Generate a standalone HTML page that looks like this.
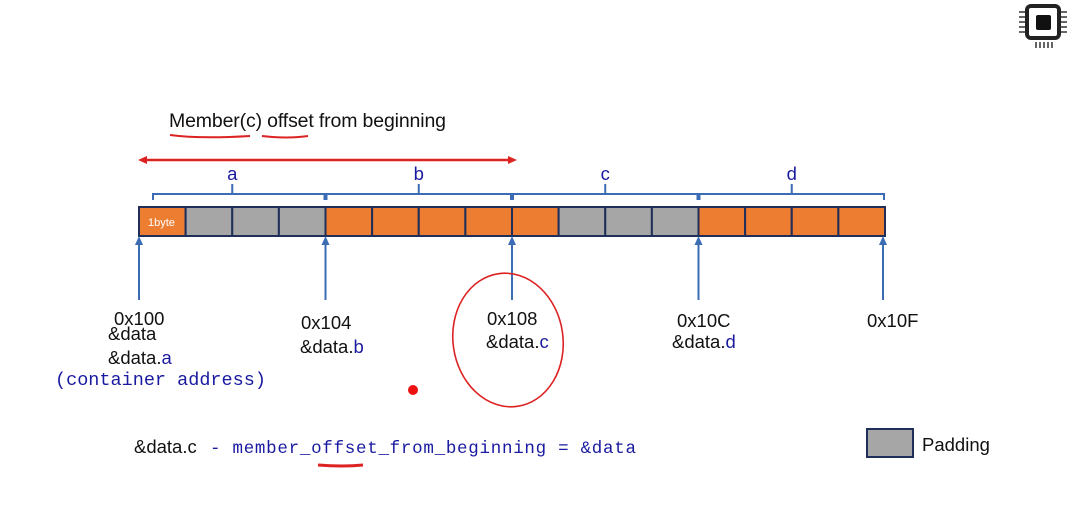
<!DOCTYPE html>
<html><head><meta charset="utf-8"><style>
body{margin:0;background:#fff;width:1075px;height:510px;overflow:hidden}
svg{display:block}
.t{font-family:"Liberation Sans",sans-serif;font-size:18.5px;fill:#111}
.m{font-family:"Liberation Mono",monospace;font-size:17.5px;fill:#1a1aa0}
.b{fill:#1a1aa0}
</style></head><body>
<svg id="s" width="1075" height="510">
<g>
<rect x="1027" y="6" width="32" height="32" rx="4" fill="none" stroke="#222" stroke-width="4"/>
<rect x="1036" y="15" width="15" height="15" rx="2" fill="#111"/>
<path d="M1019 12h6M1019 17h6M1019 22h6M1019 27h6M1019 32h6M1061 12h6M1061 17h6M1061 22h6M1061 27h6M1061 32h6M1036 42v6M1040 42v6M1044 42v6M1048 42v6M1052 42v6" stroke="#333" stroke-width="1.5"/>
</g>
<text class="t" x="169" y="127" style="font-size:19.5px" textLength="277">Member(c) offset from beginning</text>
<path d="M170 135q30 4 80 1M262 136q25 3 46 0" stroke="#d22" stroke-width="2" fill="none"/>
<g>
<line x1="144" y1="160" x2="510" y2="160" stroke="#d22" stroke-width="2.5"/>
<path d="M138 160l9-4v8zM517 160l-9-4v8z" fill="#d22"/>
</g>
<g id="cells"></g>
<g id="brk"></g>
<g id="addr"></g>
<text class="m" x="55" y="385" style="font-size:18.5px">(container address)</text>
<ellipse cx="508" cy="340" rx="55" ry="67" fill="none" stroke="#d22" stroke-width="1.6" transform="rotate(-8 508 340)"/>
<circle cx="413" cy="390" r="5" fill="#e11"/>
<text class="t" x="134" y="453">&amp;data.c</text>
<text class="m" x="210" y="453" textLength="426">- member_offset_from_beginning = &amp;data</text>
<path d="M318 465q25 2 45 0" stroke="#d22" stroke-width="3" fill="none"/>
<rect x="867" y="429" width="46" height="28" fill="#a6a6a6" stroke="#1f2f5a" stroke-width="2"/>
<text class="t" x="922" y="451">Padding</text>
</svg>
<script>
const types=["o","p","p","p","o","o","o","o","o","p","p","p","o","o","o","o"];
const members=["a","b","c","d"];
const memberStart=[0,4,8,12];
const addrs=["0x100","0x104","0x108","0x10C","0x10F"];
const addrByte=[0,4,8,12,16];
const ns="http://www.w3.org/2000/svg";
const X0=139,X1=885,Y=207,H=29;
const bx=i=>X0+(X1-X0)*i/types.length;
function mk(t,a,p){const e=document.createElementNS(ns,t);for(const k in a)e.setAttribute(k,a[k]);document.getElementById(p).appendChild(e);return e;}
types.forEach((t,i)=>{
 const r=mk("rect",{x:bx(i),y:Y,width:bx(i+1)-bx(i),height:H,fill:t=="o"?"#ed7d31":"#a6a6a6",stroke:"#1f2f5a","stroke-width":2},"cells");
 
 
});
const lb=mk("text",{x:bx(0)+9,y:Y+19,fill:"#fff","font-family":"Liberation Sans,sans-serif","font-size":"11"},"cells");lb.textContent="1byte";


members.forEach((m,i)=>{
 const s=bx(memberStart[i])+13*(i==0?1:0)+1,e=bx(memberStart[i]+4)-1,c=(bx(memberStart[i])+bx(memberStart[i]+4))/2;
 const p=mk("path",{d:`M${s} 200v-6H${e}v6M${c} 194v-10`,stroke:"#3b6cb4","stroke-width":2,fill:"none"},"brk");
 
 
 const t=mk("text",{x:c,y:180,"text-anchor":"middle",class:"t b","font-size":"19"},"brk");t.textContent=m;
 
 
});
const ly=[[325],[329,353],[325,348],[327,348],[327]];
const lx=[114,301,487,677,867];
addrs.forEach((a,i)=>{
 const x=bx(addrByte[i])-(i==4?2:0);
 const ar=mk("path",{d:`M${x} 300V240`,stroke:"#3b6cb4","stroke-width":2},"addr");
 
 
 const hd=mk("path",{d:`M${x} 236l-4 9h8z`,fill:"#3b6cb4"},"addr");
 
 
 const t=mk("text",{x:lx[i],y:ly[i][0],class:"t"},"addr");t.textContent=a;
 
 
});
function amp(x,y,n){const t=mk("text",{x:x,y:y,class:"t"},"addr");t.innerHTML="&amp;data"+(n?'.<tspan class="b">'+n+'</tspan>':"");
 
 }
amp(108,340,null);amp(108,364,"a");amp(300,353,"b");amp(486,348,"c");amp(672,348,"d");
</script>
</body></html>
